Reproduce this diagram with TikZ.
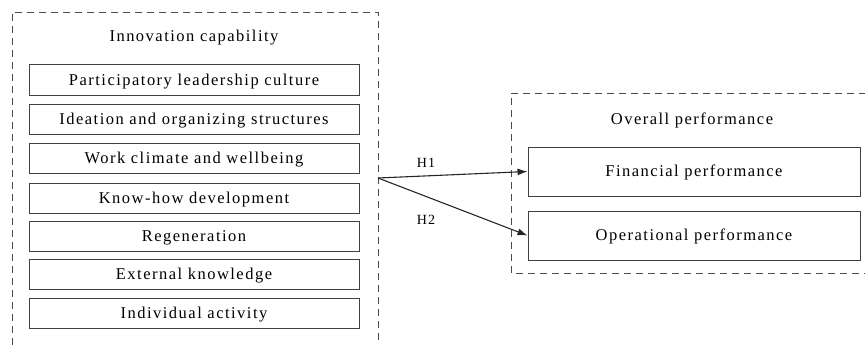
\documentclass[tikz,border=0pt]{standalone}
\usepackage{fontspec}
\setmainfont{Liberation Serif}[LetterSpace=9]
\usetikzlibrary{arrows.meta}
\begin{document}
\begin{tikzpicture}[x=1pt,y=-1pt,
  frame/.style={draw=black!70,dashed,dash pattern=on 7pt off 5pt,line width=0.9pt},
  itembox/.style={draw=black!75,line width=1pt,minimum width=330pt,minimum height=30pt,inner sep=0pt,text height=11pt,text depth=1pt,font=\fontsize{16.5}{18}\selectfont},
  perfbox/.style={draw=black!75,line width=1pt,minimum width=332pt,minimum height=49pt,inner sep=0pt,text height=11pt,text depth=1pt,font=\fontsize{16.5}{18}\selectfont},
  ttl/.style={font=\fontsize{16.5}{18}\selectfont,inner sep=0pt},
  hyp/.style={font=\fontsize{14}{16}\selectfont,inner sep=0pt},
  link/.style={draw=black!85,line width=1.1pt,-{Latex[length=10pt,width=7pt]}}]
\useasboundingbox (0,0) rectangle (865,345);
% left frame (open at bottom)
\coordinate (lbl) at (12,345);
\coordinate (ltl) at (12,12);
\coordinate (ltr) at (378,12);
\coordinate (lbr) at (378,345);
\draw[frame] (lbl) -- (ltl) -- (ltr) -- (lbr);
% right frame (open at right)
\coordinate (rtr) at (866,93);
\coordinate (rtl) at (511,93);
\coordinate (rbl) at (511,273);
\coordinate (rbr) at (866,273);
\draw[frame] (rtr) -- (rtl) -- (rbl) -- (rbr);

\node[ttl] (ictitle) at (194,38) {Innovation capability};
\node[itembox] (b1) at (194,80) {Participatory leadership culture};
\node[itembox] (b2) at (194,119) {Ideation and organizing structures};
\node[itembox] (b3) at (194,158) {Work climate and wellbeing};
\node[itembox] (b4) at (194,198) {Know-how development};
\node[itembox] (b5) at (194,236) {Regeneration};
\node[itembox] (b6) at (194,274.5) {External knowledge};
\node[itembox] (b7) at (194,313) {Individual activity};

\node[ttl] (optitle) at (692,120) {Overall performance};
\node[perfbox] (fin) at (694,171.5) {Financial performance};
\node[perfbox] (ope) at (694,235.5) {Operational performance};

\coordinate (src) at (378,178);
\draw[link] (src) -- (fin.west);
\draw[link] (src) -- (ope.west);
\node[hyp] (h1) at (426,163) {H1};
\node[hyp] (h2) at (426,220) {H2};
\end{tikzpicture}
\end{document}
